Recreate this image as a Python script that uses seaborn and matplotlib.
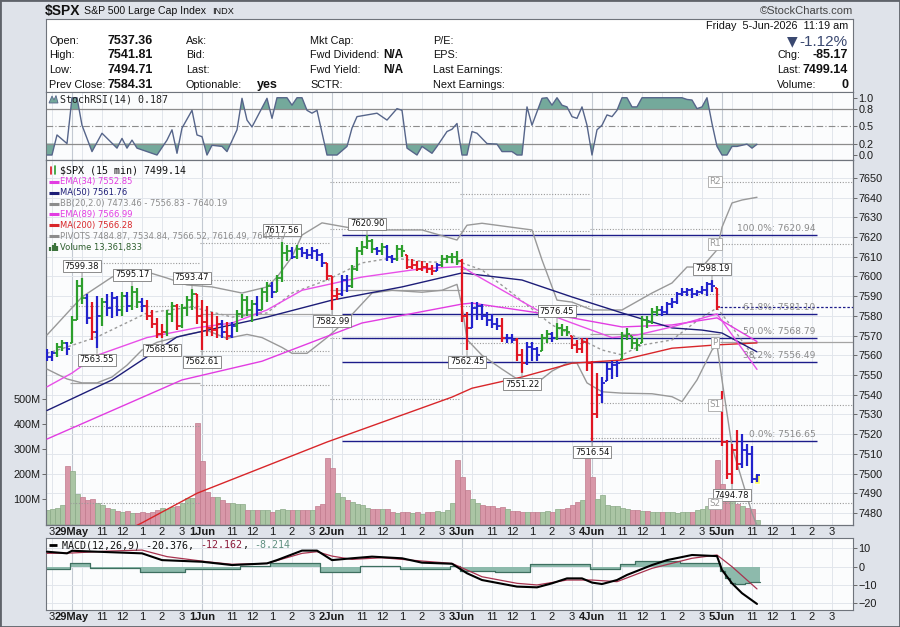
import numpy as np
import pandas as pd
import seaborn as sns
import matplotlib
matplotlib.use("Agg")
import matplotlib.pyplot as plt
import matplotlib.transforms as mtransforms
from matplotlib.lines import Line2D
from matplotlib.patches import Rectangle, Polygon

# ---------------- data ----------------
# 15 minute bars: bar 0 = 29 May 9:30, 26 bars per session, last 5 bars of 28 May visible
first_bar = -5
bars_per_day = 26
day_names = ["29May", "1Jun", "2Jun", "3Jun", "4Jun", "5Jun"]
hour_names = ["11", "12", "1", "2", "3"]
hour_bars = [6, 10, 14, 18, 22]
grid_bars = [0, 2, 6, 10, 14, 18, 22]

high = [
    7563, 7562, 7566, 7568, 7567,
    7580, 7598, 7599.38, 7591, 7587, 7590, 7589, 7591, 7592, 7590, 7592, 7592, 7595.17,
    7594, 7589, 7588, 7583, 7579, 7576, 7583, 7587, 7586, 7586, 7590, 7593.47, 7591,
    7588, 7585, 7582, 7580, 7578, 7577, 7577, 7583, 7591, 7590, 7588, 7590, 7594,
    7597, 7597, 7601, 7617.56, 7616, 7615, 7616, 7615, 7614, 7615, 7614, 7612, 7607,
    7600, 7594, 7601, 7601, 7606, 7615, 7618, 7620.90, 7619, 7615, 7617, 7616, 7611,
    7616, 7616, 7611, 7609, 7608, 7608, 7607, 7606, 7607, 7611, 7611, 7612, 7613,
    7609, 7582, 7587, 7587, 7586, 7582, 7581, 7579, 7579, 7571, 7571, 7569, 7563,
    7567, 7567, 7564, 7571, 7573, 7572, 7576.45, 7576, 7575, 7570, 7568, 7569, 7569,
    7557, 7551, 7549, 7556, 7557, 7557, 7572, 7574, 7570, 7569, 7580, 7580, 7584,
    7585, 7585, 7587, 7589, 7592, 7594, 7594, 7594, 7593, 7595, 7597, 7598.19, 7594,
    7541.81, 7517, 7515, 7522, 7520, 7515, 7514, 7500,
]
low = [
    7557, 7557, 7559, 7562, 7560,
    7566, 7578, 7586, 7576, 7568, 7563.55, 7575, 7580, 7579, 7580, 7580, 7582, 7583,
    7584, 7582, 7578, 7574, 7569, 7568.56, 7570, 7577, 7573, 7574, 7580, 7583, 7576,
    7562.61, 7570, 7570, 7569, 7569, 7568, 7569, 7572, 7579, 7580, 7577, 7580, 7583,
    7587, 7589, 7592, 7597, 7608, 7609, 7609, 7610, 7609, 7609, 7608, 7605, 7598,
    7582.99, 7588, 7590, 7592, 7594, 7603, 7611, 7614, 7612, 7611, 7611, 7608, 7607,
    7608, 7610, 7604, 7604, 7603, 7603, 7602, 7601, 7603, 7605, 7607, 7607, 7606,
    7577, 7562.45, 7574, 7578, 7578, 7575, 7574, 7573, 7567, 7566, 7566, 7557, 7551.22,
    7555, 7557, 7557, 7562, 7566, 7567, 7568, 7570, 7570, 7563, 7561, 7561, 7552,
    7516.54, 7528, 7536, 7547, 7548, 7549, 7558, 7568, 7563, 7562, 7566, 7574, 7576,
    7580, 7580, 7581, 7584, 7586, 7590, 7590, 7589, 7590, 7591, 7590, 7592, 7583,
    7514, 7497, 7494.78, 7502, 7503, 7504, 7495, 7495.5,
]
close = [
    7559, 7561, 7564, 7566, 7563,
    7578, 7595, 7589, 7579, 7572, 7580, 7587, 7584, 7589, 7583, 7590, 7585, 7592,
    7587, 7585, 7580, 7576, 7571, 7572, 7581, 7585, 7575, 7584, 7588, 7591, 7580,
    7577, 7574, 7573, 7576, 7572, 7570, 7575, 7581, 7588, 7583, 7586, 7583, 7592,
    7595, 7592, 7599, 7612, 7613, 7610, 7614, 7612, 7611, 7613, 7611, 7607, 7600,
    7590, 7591, 7598, 7595, 7604, 7613, 7615, 7618, 7614, 7613, 7615, 7610, 7609,
    7614, 7613, 7605, 7606, 7604, 7605, 7604, 7603, 7606, 7609, 7610, 7610, 7608,
    7580, 7574, 7584, 7585, 7580, 7578, 7576, 7575, 7569, 7569, 7568, 7560, 7556,
    7564, 7563, 7560, 7569, 7571, 7569, 7574, 7573, 7572, 7565, 7563, 7567, 7556,
    7530, 7540, 7546, 7553, 7555, 7556, 7570, 7571, 7566, 7565, 7578, 7577, 7582,
    7583, 7582, 7586, 7587, 7591, 7592, 7593, 7591, 7592, 7593, 7596, 7595, 7584.31,
    7516, 7500, 7512, 7505, 7512, 7510, 7497, 7499.14,
]
bar_colors = ("bbggb"
              "gggbrbgbbbgbggbrrrrggrgggr"
              "rrrrbrbggggbggbgggbgbbbbbr"
              "rrbbgggggbgbbggrrrrrrbgggg"
              "rrbbbbbbrbbrrbbbggbgggrrrr"
              "rrbbbbggggggggbbbbbbbbbbbr"
              "rrrrbbbb")
first_open = 7560.0
open_5jun = 7537.36
prev_close = 7584.31

volume_m = [
    57, 60, 63, 76, 234,
    214, 122, 109, 96, 99, 85, 76, 66, 59, 53, 50, 53, 46, 46, 50, 46, 50, 57, 63, 59, 70, 72, 83, 103, 103, 405,
    253, 129, 107, 107, 98, 85, 85, 80, 80, 56, 56, 57, 57, 55, 50, 57, 60, 57, 55, 57, 55, 55, 57, 72, 80, 264,
    225, 126, 109, 96, 88, 80, 76, 66, 62, 59, 59, 59, 50, 46, 50, 48, 46, 50, 42, 48, 50, 52, 48, 57, 83, 256,
    189, 136, 102, 83, 76, 72, 72, 65, 69, 62, 53, 52, 49, 47, 47, 47, 47, 52, 47, 59, 59, 65, 76, 89, 95, 263,
    189, 102, 116, 76, 72, 72, 65, 62, 56, 56, 52, 52, 49, 49, 47, 47, 47, 43, 47, 47, 47, 56, 62, 72, 83, 256,
    160, 123, 116, 80, 72, 65, 62, 16,
]

peak_bars = [2, 12, 24, 42, 59, 97, 128]
trough_bars = [5, 18, 26, 52, 79, 90, 104, 132]

# overlays as (bar, value)
ema34 = [(-5, 7544), (0, 7551), (5, 7560), (15, 7569), (25, 7574), (32, 7576.4), (39, 7583),
         (46, 7593), (58, 7599.7), (70, 7604), (78, 7605), (80, 7601.8), (93, 7583), (100, 7576.4),
         (108, 7569), (113, 7570.3), (120, 7574.4), (129, 7581), (137, 7552.85)]
ema89 = [(-5, 7517.5), (22, 7547.5), (38, 7557), (58, 7576.4), (78, 7586), (80, 7586.5),
         (100, 7579), (110, 7574.4), (120, 7575.4), (129, 7579), (137, 7566.99)]
ma50 = [(-5, 7532), (8, 7547.5), (21, 7569.3), (30, 7574.4), (39, 7579.4), (52, 7588), (66, 7594.7),
        (78, 7601.8), (90, 7598.2), (100, 7589.6), (110, 7581.5), (120, 7573.9), (126, 7572.8),
        (130, 7571.3), (137, 7561.76)]
ma200 = [(-5, 7451), (14, 7475), (25, 7490), (51, 7516), (76, 7538.8), (80, 7543.3), (90, 7549),
         (100, 7556), (110, 7557.6), (120, 7563.6), (129, 7565.3), (137, 7566.28)]
bb_mid = [(-5, 7561), (-1, 7564.2), (5, 7569.3), (15, 7581.5), (24, 7584.5), (32, 7579.4), (39, 7581.5),
          (44, 7591.6), (51, 7598.2), (58, 7606.9), (64, 7609.4), (71, 7607.4), (78, 7606.9), (82, 7603.3),
          (88, 7591.6), (96, 7575.4), (106, 7562.7), (110, 7560.2), (114, 7565.2), (120, 7567.8),
          (126, 7579.4), (129, 7584), (132, 7574.4), (137, 7556.83)]
bb_up = [(-5, 7570.3), (2, 7589.6), (8, 7599.7), (12, 7603.3), (15, 7602.3), (19, 7599.2), (23, 7595.7),
         (28, 7594.7), (34, 7591.6), (39, 7594.7), (41, 7599.7), (44, 7609.9), (46, 7621), (50, 7627.2),
         (58, 7623.6), (70, 7623.6), (77, 7618.5), (79, 7626), (82, 7627), (92, 7623.6), (94, 7608.4),
         (97, 7588), (100, 7587), (104, 7583), (110, 7583), (116, 7591.6), (120, 7596.7), (123, 7604.8),
         (126, 7604.8), (129, 7613.5), (130, 7625), (132, 7637.3), (134, 7638.8), (137, 7640.19)]
bb_lo = [(-5, 7553), (-1, 7548), (2, 7546), (5, 7546), (8, 7549), (11, 7555), (14, 7562.7), (17, 7566.6),
         (23, 7570.6), (27, 7572.6), (31, 7568.6), (35, 7570.6), (38, 7569), (42, 7564), (44, 7561),
         (47, 7561), (51, 7569), (55, 7578), (60, 7591.6), (64, 7593), (70, 7592), (74, 7593), (77, 7596),
         (78, 7585), (79, 7568), (82, 7560), (86, 7553), (89, 7548), (93, 7546), (96, 7552), (99, 7556),
         (101, 7556), (103, 7546), (106, 7541.5), (110, 7540.8), (116, 7540.5), (120, 7539), (122, 7536.5),
         (125, 7547.5), (128, 7562.7), (129, 7565.2), (130, 7547.5), (132, 7513.6), (134, 7496.7),
         (136, 7480), (137, 7473.46)]

# daily pivots 29May .. 5Jun
pivot_r2 = [7607, 7617, 7648, 7642, 7624, 7648.17]
pivot_r1 = [7585, 7598, 7624, 7623, 7591, 7616.49]
pivot_p = [7546, 7581, 7593, 7604, 7571, 7566.52]
pivot_s1 = [7524, 7562, 7569, 7585, 7536, 7534.84]
pivot_s2 = [7485, 7545, 7538, 7566, 7518, 7484.87]
pivot_names = ["R2", "R1", "P", "S1", "S2"]

fib_names = ["100.0%", "61.8%", "50.0%", "38.2%", "0.0%"]
fib_levels = [7620.94, 7581.10, 7568.79, 7556.49, 7516.65]

stoch = [(-5, 0.0), (-4, 0.0), (-3, 0.35), (-1, 0.2), (0, 1.0), (1, 1.0), (2, 0.52), (4, 0.06), (6, 0.38),
         (9, 0.12), (10, 0.29), (11, 0.12), (12, 0.26), (13, 0.12), (17, 0.0), (19, 0.26), (20, 0.44),
         (21, 0.03), (22, 0.47), (24, 0.78), (25, 0.35), (26, 0.32), (27, 0.0), (28, 0.17), (30, 0.15),
         (31, 0.06), (33, 0.44), (34, 0.99), (35, 0.61), (36, 0.49), (39, 0.99), (40, 0.64), (41, 1.0),
         (43, 1.0), (44, 0.87), (45, 1.0), (46, 1.0), (47, 0.78), (48, 0.73), (49, 0.78), (51, 0.0),
         (53, 0.0), (55, 0.15), (56, 0.47), (57, 0.67), (59, 0.70), (61, 0.73), (62, 0.67), (63, 0.61),
         (65, 0.81), (66, 0.78), (67, 0.12), (69, 0.0), (70, 0.15), (72, 0.03), (73, 0.15), (75, 0.41),
         (76, 0.45), (77, 0.55), (78, 0.0), (79, 0.0), (80, 0.41), (81, 0.38), (83, 0.2), (85, 0.19),
         (86, 0.06), (88, 0.06), (89, 0.0), (90, 0.0), (91, 0.84), (92, 0.52), (94, 0.99), (95, 1.0),
         (96, 0.87), (97, 1.0), (98, 0.87), (99, 0.84), (100, 0.67), (101, 0.64), (102, 0.84), (103, 0.52),
         (104, 0.0), (105, 0.44), (106, 0.52), (107, 0.70), (108, 0.67), (109, 0.78), (110, 1.0),
         (111, 1.0), (112, 0.84), (113, 0.84), (114, 1.0), (122, 1.0), (123, 0.97), (124, 0.96),
         (125, 0.81), (126, 0.84), (127, 1.0), (128, 0.55), (129, 0.15), (130, 0.0), (131, 0.0),
         (132, 0.15), (133, 0.15), (135, 0.19), (136, 0.12), (137, 0.187)]

macd = [(-5, 8.2), (-1, 7.3), (0, 8.7), (7, 8.0), (14, 7.3), (18, 3.6), (26, 2.7), (32, 0.9), (39, 1.8),
        (41, 3.6), (46, 8.8), (49, 8.8), (52, 3.6), (56, 4.6), (60, 5.5), (66, 4.6), (70, 2.2), (76, 1.6),
        (79, -3.6), (82, -7.3), (89, -10.9), (93, -11.3), (96, -9.1), (99, -6.4), (102, -6.4), (104, -8.7),
        (106, -9.5), (109, -7.3), (111, -4.5), (116, 0.9), (119, 3.6), (124, 6.4), (129, 5.8), (130, -1.8),
        (132, -9.1), (134, -14.5), (137, -20.376)]
macd_signal = [(-5, 7.3), (0, 7.5), (7, 8.5), (14, 9.1), (19, 5.5), (27, 2.7), (32, 1.3), (39, 1.8),
               (46, 7.3), (49, 8.2), (52, 5.8), (56, 4.0), (62, 4.9), (70, 3.1), (76, 1.8), (82, -5.5),
               (89, -9.1), (93, -10.0), (99, -7.3), (104, -7.3), (109, -8.2), (116, -0.9), (124, 4.6),
               (129, 6.4), (132, 0.0), (137, -12.162)]
# histogram as (first bar of run, value)
macd_hist = [(-5.5, -1.2), (-0.5, 1.8), (3.5, -0.5), (13.5, -2.7), (22.5, -1.3), (33.5, 0.5), (39.5, 2.2),
             (49.5, -2.7), (57.5, 0.2), (65.5, -1.5), (75.5, 0.5), (77.5, -2.5), (84.5, -3.0), (91.5, 1.5),
             (103.5, -1.0), (109.5, 1.5), (112.5, 3.2), (121.5, 2.0), (129.5, -2.5), (130.5, -6.0),
             (131.5, -9.0), (132.5, -9.5), (133.5, -9.2), (134.5, -8.8), (135.5, -8.5), (136.5, -8.214)]

# ---------------- figure ----------------
W, H = 900, 627
sns.set_theme(style="white", rc={"axes.edgecolor": "#6f747c", "axes.linewidth": 0.8})
plt.rcParams["font.family"] = ["DejaVu Sans"]

fig = plt.figure(figsize=(W / 100, H / 100), dpi=100)
fig.patch.set_facecolor("#dfe3ea")


def box(x0, y0, x1, y1):
    return [x0 / W, 1 - y1 / H, (x1 - x0) / W, (y1 - y0) / H]


def ftext(x, y, s, **kw):
    kw.setdefault("va", "center")
    return fig.text(x / W, 1 - y / H, s, **kw)


def fline(x0, y0, x1, y1, **kw):
    fig.add_artist(Line2D([x0 / W, x1 / W], [1 - y0 / H, 1 - y1 / H], transform=fig.transFigure, **kw))


hdr = fig.add_axes(box(46, 19, 853, 92))
axs = fig.add_axes(box(46, 92, 853, 160))
axv = fig.add_axes(box(46, 160, 853, 525))
axp = axv.twinx()
axm = fig.add_axes(box(46, 538, 853, 610))

xmin, xmax = -5.2, 156.2
panel_bg = "#fbfcfd"
for a in (axs, axv, axm):
    a.set_facecolor(panel_bg)
    a.set_xlim(xmin, xmax)
axp.set_xlim(xmin, xmax)
axp.patch.set_visible(False)
for a in (hdr, axs, axv, axp, axm):
    for sp in a.spines.values():
        sp.set_color("#6f747c")
        sp.set_linewidth(0.8)
hdr.set_facecolor("white")
hdr.set_xticks([])
hdr.set_yticks([])

axp.set_ylim(7473.9, 7659.1)
axv.set_ylim(-4, 1456)
axs.set_ylim(-0.087, 1.10)
axm.set_ylim(-23.7, 15.7)

# vertical grid
for a in (axs, axv, axm):
    for d in range(-1, 6):
        for off in grid_bars:
            b = d * bars_per_day + off
            if xmin < b < xmax:
                a.axvline(b, color="#c3c9d2" if off == 0 else "#e2e6ec", lw=0.8 if off == 0 else 0.7, zorder=0)

# horizontal price grid drawn in the volume axes so it stays underneath
ptrans = mtransforms.blended_transform_factory(axv.transAxes, axp.transData)
for lv in range(7480, 7660, 10):
    axv.add_line(Line2D([0, 1], [lv, lv], transform=ptrans, color="#e2e6ec", lw=0.7, zorder=0))

# ---- volume ----
x = np.arange(first_bar, first_bar + len(close))
hi = np.array(high)
lo = np.array(low)
cl = np.array(close)
up = np.concatenate([[True], cl[1:] >= cl[:-1]])
axv.bar(x, volume_m, width=1.0, color=np.where(up, "#aac5a4", "#d897a8"),
        edgecolor=np.where(up, "#8aa986", "#c07a8d"), lw=0.5, zorder=1)
axv.set_yticks([100, 200, 300, 400, 500])
axv.set_yticklabels(["100M", "200M", "300M", "400M", "500M"])

# ---- pivots ----
pivots = list(zip(pivot_r2, pivot_r1, pivot_p, pivot_s1, pivot_s2))
for d, levels in enumerate(pivots):
    last_day = d == len(pivots) - 1
    start = d * bars_per_day - (0.4 if last_day else 0.5)
    end = xmax if last_day else d * bars_per_day + bars_per_day - 0.5
    for name, lv in zip(pivot_names, levels):
        if name == "P":
            axp.hlines(lv, start, end, color="#a4a4a4", lw=0.9, zorder=1)
        else:
            axp.hlines(lv, start, end, color="#9a9a9a", lw=0.8, linestyles=(0, (1, 1.5)), zorder=1)
        if last_day:
            axp.text(start - 1.0, lv, name, ha="center", va="center", fontsize=6.3, color="#999999", zorder=7,
                     bbox=dict(boxstyle="square,pad=0.15", fc="white", ec="#a6a6a6", lw=0.6))

# ---- fibonacci retracement ----
fib_start, fib_end = 54, 149
for name, lv in zip(fib_names, fib_levels):
    axp.hlines(lv, fib_start, fib_end, color="#1c1c8a", lw=1.0, zorder=2)
    axp.annotate(f"{name}: {lv:.2f}", xy=(fib_end, lv), xytext=(-1, 1.5), textcoords="offset points",
                 ha="right", va="bottom", fontsize=6.6, color="#8a8a8a", zorder=6)
axp.hlines(prev_close, 5 * bars_per_day - 0.4, xmax, color="#1c1c8a", lw=0.9, linestyles=(0, (2, 1.5)), zorder=2)


# ---- overlays ----
def overlay(ax, pts, color, lw=1.0, ls="-", z=3):
    bx, by = zip(*pts)
    sns.lineplot(x=list(bx), y=list(by), ax=ax, color=color, linewidth=lw, linestyle=ls,
                 zorder=z, sort=False, estimator=None)


overlay(axp, bb_up, "#999999")
overlay(axp, bb_lo, "#999999")
overlay(axp, bb_mid, "#9a9a9a", ls=(0, (2, 2)))
overlay(axp, ma200, "#d8262a")
overlay(axp, ema89, "#e23ce2")
overlay(axp, ma50, "#1d1d78")
overlay(axp, ema34, "#e84fe8")

# ---- price bars ----
op = np.concatenate([[first_open], cl[:-1]])
op[5 * bars_per_day - first_bar] = open_5jun
op = np.clip(op, lo, hi)
cmap = {"g": "#2c9e2c", "r": "#e01522", "b": "#2222cc"}
cols = [cmap[c] for c in bar_colors]
axp.bar(x[-1], cl[-1] - lo[-1] + 1.5, bottom=lo[-1] - 0.8, width=1.3, color="#ffff66", zorder=4)
axp.vlines(x, lo, hi, colors=cols, lw=1.6, zorder=5)
axp.hlines(op, x - 0.5, x, colors=cols, lw=1.3, zorder=5)
axp.hlines(cl, x, x + 0.5, colors=cols, lw=1.3, zorder=5)

label_box = dict(boxstyle="square,pad=0.18", fc="white", ec="#7a7a7a", lw=0.6)
for b in peak_bars:
    v = hi[b - first_bar]
    axp.annotate(f"{v:.2f}", xy=(b, v), xytext=(0, 5), textcoords="offset points", ha="center", va="bottom",
                 fontsize=6, color="#111111", bbox=label_box, zorder=6,
                 arrowprops=dict(arrowstyle="-", color="#8a8a8a", lw=0.6, shrinkA=0, shrinkB=0))
for b in trough_bars:
    v = lo[b - first_bar]
    axp.annotate(f"{v:.2f}", xy=(b, v), xytext=(0, -5), textcoords="offset points", ha="center", va="top",
                 fontsize=6, color="#111111", bbox=label_box, zorder=6,
                 arrowprops=dict(arrowstyle="-", color="#8a8a8a", lw=0.6, shrinkA=0, shrinkB=0))

axp.set_yticks(range(7480, 7660, 10))
axp.set_ylabel("")
axv.set_ylabel("")

# ---- StochRSI ----
sx = np.array([p[0] for p in stoch], dtype=float)
sv = np.array([p[1] for p in stoch])
axs.fill_between(sx, sv, 0.8, where=sv >= 0.8, interpolate=True, color="#74a99b", lw=0, zorder=1)
axs.fill_between(sx, sv, 0.2, where=sv <= 0.2, interpolate=True, color="#74a99b", lw=0, zorder=1)
for lv in (0.8, 0.2):
    axs.axhline(lv, color="#8c8c8c", lw=0.9, zorder=1)
axs.axhline(0.5, color="#8c8c8c", lw=0.8, linestyle=(0, (6, 2, 1, 2)), zorder=1)
overlay(axs, stoch, "#56658a", lw=1.0, z=3)
axs.yaxis.tick_right()
axs.set_yticks([0.0, 0.2, 0.5, 0.8, 1.0])
axs.set_yticklabels(["0.0", "0.2", "0.5", "0.8", "1.0"])
axs.set_xticks([])
axs.set_ylabel("")

# ---- MACD ----
for lv in (10, 0, -10, -20):
    axm.axhline(lv, color="#e2e6ec", lw=0.7, zorder=0)
hx = [r[0] for r in macd_hist] + [x[-1] + 0.5]
hv = [r[1] for r in macd_hist] + [macd_hist[-1][1]]
axm.fill_between(hx, hv, 0, step="post", color="#8dbaac", lw=0, zorder=1)
axm.step(hx, hv, where="post", color="#3e6f60", lw=0.9, zorder=2)
overlay(axm, macd_signal, "#a8334f", lw=0.9, z=3)
overlay(axm, macd, "#000000", lw=1.5, z=4)
axm.yaxis.tick_right()
axm.set_yticks([10, 0, -10, -20])
axm.set_ylabel("")

# ---- axis ticks ----
xt_pos, xt_lab, xt_bold = [-4], ["3"], [False]
for d, name in enumerate(day_names):
    base = d * bars_per_day
    xt_pos.append(base)
    xt_lab.append(name)
    xt_bold.append(True)
    for hb, hn in zip(hour_bars, hour_names):
        xt_pos.append(base + hb)
        xt_lab.append(hn)
        xt_bold.append(False)
for a in (axv, axm):
    a.set_xticks(xt_pos)
    a.set_xticklabels(xt_lab, fontsize=8, family="Liberation Sans", color="#1a1a1a")
    for t, bld in zip(a.get_xticklabels(), xt_bold):
        t.set_fontweight("bold" if bld else "normal")
    a.tick_params(axis="x", length=0, pad=1.5)
axp.tick_params(axis="x", length=0, labelbottom=False)
for a in (axs, axp, axm, axv):
    a.tick_params(axis="y", length=3, width=0.6, color="#555555", pad=1, labelsize=7.8, labelcolor="#1a1a1a")
    for t in a.get_yticklabels():
        t.set_family("Liberation Sans")

# ---- panel legends ----
mono = "DejaVu Sans Mono"
ftext(60, 99, "StochRSI(14) 0.187", fontsize=7.2, family=mono, color="#222222")
fig.add_artist(Polygon([[49 / W, 1 - 103 / H], [52 / W, 1 - 96 / H], [54 / W, 1 - 100 / H],
                        [56 / W, 1 - 95.5 / H], [58 / W, 1 - 103 / H]], closed=True,
                       transform=fig.transFigure, fc="#74a99b", ec="#56658a", lw=0.6))

ftext(60, 170.7, r"\$SPX (15 min) 7499.14", fontsize=7.2, family=mono, color="#111111")
fline(51, 167, 51, 174, color="#e01522", lw=1.2)
fline(55, 166, 55, 174, color="#2c9e2c", lw=1.2)
legend_items = [
    ("EMA(34) 7552.85", "#e23ce2"),
    ("MA(50) 7561.76", "#1d1d78"),
    ("BB(20,2.0) 7473.46 - 7556.83 - 7640.19", "#8c8c8c"),
    ("EMA(89) 7566.99", "#e23ce2"),
    ("MA(200) 7566.28", "#d8262a"),
    ("PIVOTS 7484.87, 7534.84, 7566.52, 7616.49, 7648.17", "#8c8c8c"),
]
for k, (txt, c) in enumerate(legend_items):
    yy = 181.7 + k * 10.9
    fline(49, yy, 58.5, yy, color=c, lw=2.2, solid_capstyle="butt")
    ftext(60, yy, txt, fontsize=6.0, color=c)
yy = 181.7 + 6 * 10.9
for bx_, bh in ((50, 4), (52.5, 6), (55, 8), (57.5, 5)):
    fline(bx_, yy + 3.5, bx_, yy + 3.5 - bh, color="#3c733c", lw=1.6, solid_capstyle="butt")
ftext(60, yy, "Volume 13,361,833", fontsize=6.0, color="#2f5f2f")

cw = 7.2 / 72 * 100 * 0.602
fline(49, 545, 57, 545, color="#000000", lw=2.0, solid_capstyle="butt")
parts = [("MACD(12,26,9) -20.376, ", "#111111"), ("-12.162", "#8b1a3a"), (", ", "#111111"),
         ("-8.214", "#5f8f80")]
xx = 62
for s, c in parts:
    ftext(xx, 545, s, fontsize=7.2, family=mono, color=c)
    xx += len(s) * cw

# ---- header ----
lib = "Liberation Sans"
ftext(45, 11.5, r"\$SPX", fontsize=10, fontweight="bold", family=lib, color="#111111")
ftext(83.5, 11.5, "S&P 500 Large Cap Index", fontsize=7.6, family=lib, color="#111111")
ftext(212, 12, "INDX", fontsize=6.6, family=lib, color="#111111")
ftext(853, 11.5, "\u00a9StockCharts.com", fontsize=8, family=lib, color="#444444", ha="right")

rows = [40.5, 55, 70, 84.5]
col1 = [("Open:", "7537.36"), ("High:", "7541.81"), ("Low:", "7494.71"), ("Prev Close:", "7584.31")]
for yy, (lab, val) in zip(rows, col1):
    ftext(49, yy, lab, fontsize=7.8, family=lib, color="#111111")
    ftext(107.5, yy, val, fontsize=9, fontweight="bold", family=lib, color="#111111")
for yy, lab in zip(rows, ["Ask:", "Bid:", "Last:", "Optionable:"]):
    ftext(186, yy, lab, fontsize=7.8, family=lib, color="#111111")
ftext(257, rows[3] + 0.5, "yes", fontsize=9, fontweight="bold", family=lib, color="#111111")
for yy, lab in zip(rows, ["Mkt Cap:", "Fwd Dividend:", "Fwd Yield:", "SCTR:"]):
    ftext(310, yy, lab, fontsize=7.8, family=lib, color="#111111")
ftext(383, rows[1], "N/A", fontsize=8.5, fontweight="bold", family=lib, color="#111111")
ftext(383, rows[2], "N/A", fontsize=8.5, fontweight="bold", family=lib, color="#111111")
for yy, lab in zip(rows, ["P/E:", "EPS:", "Last Earnings:", "Next Earnings:"]):
    ftext(433, yy, lab, fontsize=7.8, family=lib, color="#111111")

ftext(848, 26, "Friday  5-Jun-2026  11:19 am", fontsize=7.8, family=lib, color="#111111", ha="right")
ftext(787, 41.5, "\u25bc", fontsize=10, color="#3a4870", ha="left")
ftext(848, 41.5, "-1.12%", fontsize=11, family=lib, color="#3a4870", ha="right")
for yy, lab, val in zip(rows[1:], ["Chg:", "Last:", "Volume:"], ["-85.17", "7499.14", "0"]):
    ftext(777, yy, lab, fontsize=7.8, family=lib, color="#111111")
    ftext(848, yy, val, fontsize=9, fontweight="bold", family=lib, color="#111111", ha="right")

fig.add_artist(Rectangle((0, 0), 1, 1, transform=fig.transFigure, fill=False, ec="#5f636a", lw=2))

fig.savefig("out.png", dpi=100, facecolor=fig.get_facecolor())
